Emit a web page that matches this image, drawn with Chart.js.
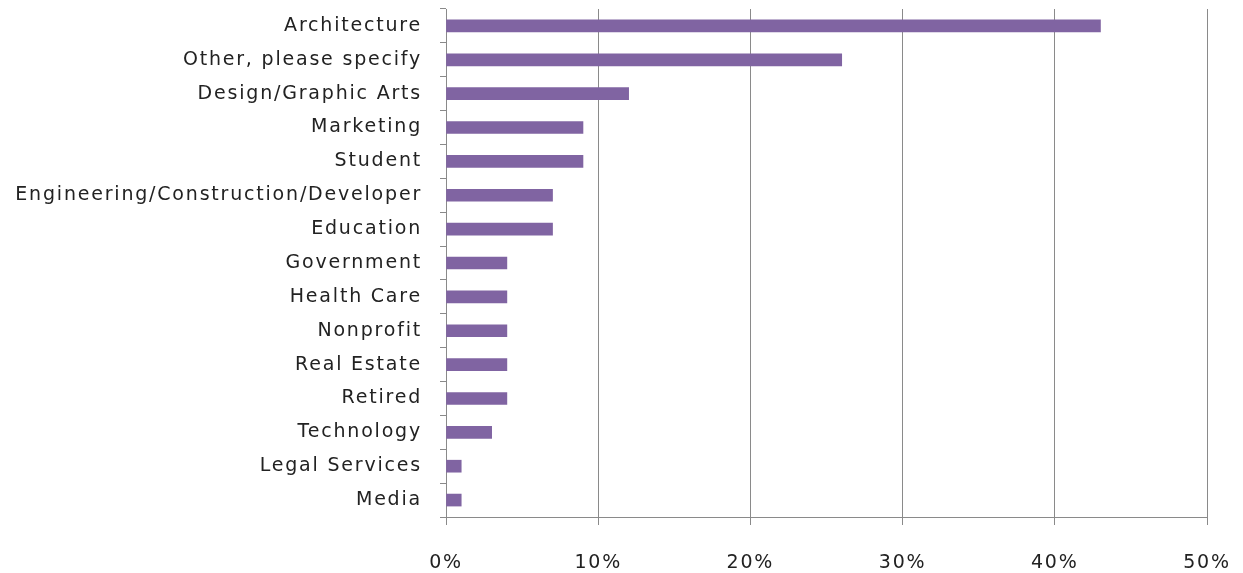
<!DOCTYPE html>
<html>
<head>
<meta charset="utf-8">
<script src="https://cdn.jsdelivr.net/npm/chart.js@4/dist/chart.umd.min.js"></script>
<style>
  html, body { margin: 0; padding: 0; background: #fff; }
  #wrap { width: 1243px; height: 573px; position: relative; }
</style>
</head>
<body>
<div id="wrap"><canvas id="ocupacion"></canvas></div>
<script>
const categorias = [
  "Architecture",
  "Other, please specify",
  "Design/Graphic Arts",
  "Marketing",
  "Student",
  "Engineering/Construction/Developer",
  "Education",
  "Government",
  "Health Care",
  "Nonprofit",
  "Real Estate",
  "Retired",
  "Technology",
  "Legal Services",
  "Media",
];
const porcentajes = [43, 26, 12, 9, 9, 7, 7, 4, 4, 4, 4, 4, 3, 1, 1];
const ticks_x = [0, 10, 20, 30, 40, 50];

const gris = "#8a8a8a";
const fuente = "'DejaVu Sans', sans-serif";

// texto espaciado como en el original
const plugin_espaciado = {
  id: "espaciado",
  beforeLayout: (chart) => {
    chart.ctx.letterSpacing = "1.8px";
  },
  beforeDraw: (chart) => {
    chart.ctx.letterSpacing = "1.8px";
  },
};

const ctx = document.getElementById("ocupacion").getContext("2d");
const chart_ocupacion = new Chart(ctx, {
  type: "bar",
  data: {
    labels: categorias,
    datasets: [
      {
        label: "Porcentaje",
        data: porcentajes,
        backgroundColor: "#8064a2",
        borderWidth: 0,
        barThickness: 12,
      },
    ],
  },
  options: {
    indexAxis: "y",
    responsive: true,
    maintainAspectRatio: false,
    animation: false,
    layout: {
      padding: { top: 9, right: 36, left: 0, bottom: 0 },
    },
    plugins: {
      legend: { display: false },
      tooltip: { enabled: false },
    },
    scales: {
      x: {
        min: 0,
        max: 50,
        afterBuildTicks: (scale) => {
          scale.ticks = ticks_x.map((v) => ({ value: v }));
        },
        afterFit: (scale) => {
          scale.height = 56;
          scale.paddingLeft = 0;
          scale.paddingRight = 0;
        },
        grid: {
          color: gris,
          lineWidth: 1,
          tickLength: 8,
        },
        border: { color: gris, width: 1 },
        ticks: {
          padding: 27,
          maxRotation: 0,
          color: "#222",
          font: { family: fuente, size: 19 },
          callback: function (value) {
            return value + "%";
          },
        },
      },
      y: {
        afterFit: (scale) => {
          scale.width = 446;
          scale.paddingTop = 0;
          scale.paddingBottom = 0;
        },
        grid: {
          offset: true,
          drawOnChartArea: false,
          color: gris,
          tickLength: 6,
        },
        border: { color: gris, width: 1 },
        ticks: {
          padding: 18,
          color: "#222",
          font: { family: fuente, size: 19 },
        },
      },
    },
  },
  plugins: [plugin_espaciado],
});
</script>
</body>
</html>
